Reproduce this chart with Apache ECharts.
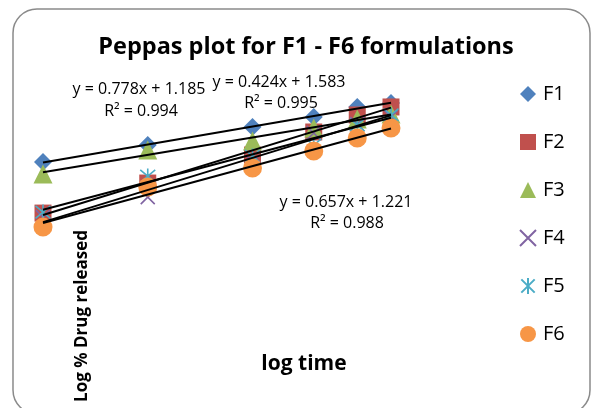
<!DOCTYPE html>
<html><head><meta charset="utf-8">
<script src="https://cdn.jsdelivr.net/npm/echarts@6/dist/echarts.min.js"></script>
<style>html,body{margin:0;padding:0;background:#fff}#c{width:592px;height:408px}</style>
</head><body><div id="c"></div>
<script>
// log time values (log of 1, 2, 4, 6, 8, 10)
const logTime = [0, 0.301, 0.602, 0.778, 0.903, 1.0];
const seriesNames = ['F1', 'F2', 'F3', 'F4', 'F5', 'F6'];
const F1 = [1.604, 1.723, 1.849, 1.919, 1.989, 2.017];
const F2 = [1.247, 1.457, 1.653, 1.814, 1.933, 1.989];
const F3 = [1.520, 1.688, 1.751, 1.842, 1.905, 1.940];
const F4 = [1.219, 1.359, 1.604, 1.807, 1.870, 1.919];
const F5 = [1.254, 1.506, 1.646, 1.723, 1.863, 1.933];
const F6 = [1.149, 1.429, 1.562, 1.681, 1.772, 1.842];
const titleText = 'Peppas plot for F1 - F6 formulations';
const xTitle = 'log time';
const yTitle = 'Log % Drug released';
const eqTexts = [
  ['y = 0.778x + 1.185', 'R² = 0.994'],
  ['y = 0.424x + 1.583', 'R² = 0.995'],
  ['y = 0.657x + 1.221', 'R² = 0.988']
];

const values = [F1, F2, F3, F4, F5, F6];
const colors = ['#4F81BD', '#C0504D', '#9BBB59', '#8064A2', '#4BACC6', '#F79646'];
const symbols = [
  'path://M5,0 L10,5 L5,10 L0,5 Z',
  'rect',
  'triangle',
  'path://M0,0 L10,10 M10,0 L0,10',
  'path://M0,0 L10,10 M10,0 L0,10 M5,-1 L5,11',
  'circle'
];
const sizes = [18, 17, 19, 14, 15, 19];
const strokeOnly = [false, false, false, true, true, false];

function linfit(xs, ys) {
  const n = xs.length;
  const mx = xs.reduce((a, b) => a + b, 0) / n;
  const my = ys.reduce((a, b) => a + b, 0) / n;
  let sxy = 0, sxx = 0;
  for (let i = 0; i < n; i++) { sxy += (xs[i] - mx) * (ys[i] - my); sxx += (xs[i] - mx) ** 2; }
  const a = sxy / sxx;
  return [a, my - a * mx];
}

const series = [];
seriesNames.forEach((name, i) => {
  series.push({
    name: name,
    type: 'scatter',
    clip: false,
    symbol: symbols[i],
    symbolSize: sizes[i],
    data: logTime.map((x, j) => [x, values[i][j]]),
    itemStyle: strokeOnly[i]
      ? { color: 'rgba(0,0,0,0)', borderColor: colors[i], borderWidth: 1.6, opacity: 1 }
      : { color: colors[i], opacity: 1 },
    z: 2
  });
});
seriesNames.forEach((name, i) => {
  const [a, b] = linfit(logTime, values[i]);
  const x0 = Math.min(...logTime), x1 = Math.max(...logTime);
  series.push({
    name: name + ' trend',
    type: 'line',
    symbol: 'none',
    silent: true,
    data: [[x0, a * x0 + b], [x1, a * x1 + b]],
    lineStyle: { color: '#000', width: 2 },
    z: 5
  });
});

const font = '"Open Sans", "Liberation Sans", sans-serif';
const txt = (x, y, text, size, bold, extra) => Object.assign({
  type: 'text', x: x, y: y,
  style: { text: text, fontFamily: font, fontSize: size, fontWeight: bold ? 'bold' : 'normal', fill: '#000', textAlign: 'center', textVerticalAlign: 'middle' }
}, extra || {});

const chart = echarts.init(document.getElementById('c'), null, { renderer: 'canvas' });
chart.setOption({
  animation: false,
  backgroundColor: '#fff',
  textStyle: { fontFamily: font },
  grid: { left: 43, width: 348, top: 76.8, height: 171.6 },
  xAxis: { type: 'value', min: 0, max: 1, show: false },
  yAxis: { type: 'value', min: 1.0, max: 2.2, show: false },
  legend: {
    data: seriesNames,
    orient: 'vertical',
    left: 514,
    top: 78,
    padding: 5,
    itemWidth: 16,
    itemHeight: 16,
    itemGap: 26,
    textStyle: { fontSize: 20, color: '#000', fontFamily: font, lineHeight: 22, padding: [0, 0, 0, 2] }
  },
  graphic: [
    { type: 'rect', shape: { x: 13, y: 9, width: 577, height: 405, r: 24 },
      style: { fill: 'none', stroke: '#8a8a8a', lineWidth: 1.5 }, silent: true, z: -1 },
    txt(306, 47, titleText, 23.5, true),
    txt(139, 89, eqTexts[0][0], 16),
    txt(141, 111, eqTexts[0][1], 16),
    txt(279, 82, eqTexts[1][0], 16),
    txt(281, 103, eqTexts[1][1], 16),
    txt(346, 202, eqTexts[2][0], 16),
    txt(347, 223, eqTexts[2][1], 16),
    txt(304, 364, xTitle, 21, true),
    txt(82, 316, yTitle, 17, true, { rotation: Math.PI / 2 })
  ],
  series: series
});
</script></body></html>
